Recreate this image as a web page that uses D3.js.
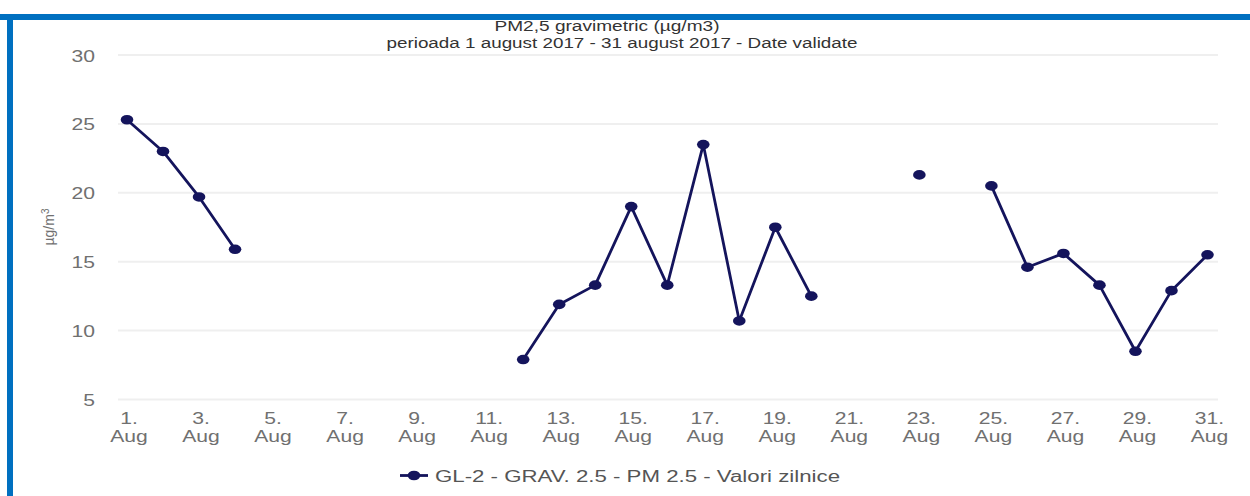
<!DOCTYPE html>
<html lang="ro">
<head>
<meta charset="UTF-8">
<title>PM2,5 gravimetric - august 2017</title>
<script src="https://cdnjs.cloudflare.com/ajax/libs/d3/7.8.5/d3.min.js"></script>
<style>
    body {
        margin: 0;
        padding: 0;
        background: #fff;
        font-family: "Liberation Sans", Arial, sans-serif;
    }
    svg { display: block; }
</style>
</head>
<body>
<div id="chart"></div>
<script>
    // Date
    const days = [1, 2, 3, 4, 5, 6, 7, 8, 9, 10, 11, 12, 13, 14, 15, 16,
                  17, 18, 19, 20, 21, 22, 23, 24, 25, 26, 27, 28, 29, 30, 31];
    const pm25 = [25.3, 23.0, 19.7, 15.9, null, null, null, null, null, null, null,
                  7.9, 11.9, 13.3, 19.0, 13.3, 23.5, 10.7, 17.5, 12.5, null,
                  null, 21.3, null, 20.5, 14.6, 15.6, 13.3, 8.5, 12.9, 15.5];
    const xTickDays = [1, 3, 5, 7, 9, 11, 13, 15, 17, 19, 21, 23, 25, 27, 29, 31];
    const yTicks = [5, 10, 15, 20, 25, 30];
    const seriesName = "GL-2 - GRAV. 2.5 - PM 2.5 - Valori zilnice";

    const width = 1250;
    const height = 496;
    const SX = 1.32; // imaginea originala e intinsa pe orizontala
    const navy = "#14145c";

    const svg = d3.select("#chart")
        .append("svg")
        .attr("width", width)
        .attr("height", height);

    // chenar albastru
    svg.append("rect").attr("x", 0).attr("y", 14).attr("width", width).attr("height", 6).attr("fill", "#0070c0");
    svg.append("rect").attr("x", 7).attr("y", 14).attr("width", 6).attr("height", height - 14).attr("fill", "#0070c0");

    const x = d3.scaleLinear().domain([1, 31]).range([127, 1207.5]);
    const y = d3.scaleLinear().domain([5, 30]).range([399.5, 55]);

    // grila
    svg.append("g")
        .selectAll("line")
        .data(yTicks)
        .enter()
        .append("line")
        .attr("x1", 118)
        .attr("x2", 1218)
        .attr("y1", d => y(d))
        .attr("y2", d => y(d))
        .attr("stroke", "#efefef")
        .attr("stroke-width", 2);

    // axa Y
    const yAxis = svg.append("g")
        .attr("transform", "translate(95,0)")
        .call(d3.axisLeft(y).tickValues(yTicks).tickSize(0).tickPadding(0));
    yAxis.select(".domain").remove();
    yAxis.selectAll("text")
        .attr("fill", "#707070")
        .style("font-size", "16px")
        .style("font-family", "'Liberation Sans', Arial, sans-serif")
        .attr("dy", null)
        .attr("x", 0)
        .attr("y", 0)
        .attr("text-anchor", "end")
        .attr("transform", `translate(0,6) scale(${SX},1)`);

    // titlu axa Y
    svg.append("text")
        .attr("transform", "translate(54,227) rotate(-90)")
        .attr("text-anchor", "middle")
        .attr("fill", "#707070")
        .style("font-size", "14px")
        .html("µg/m<tspan baseline-shift='super' font-size='10px'>3</tspan>");

    // axa X
    const xLabels = svg.append("g");
    xTickDays.forEach(dd => {
        const t = xLabels.append("text")
            .attr("text-anchor", "middle")
            .attr("fill", "#707070")
            .style("font-size", "16px");
        t.append("tspan").attr("x", 0).attr("dy", 0).text(dd + ".");
        t.append("tspan").attr("x", 0).attr("dy", 18.5).text("Aug");
        t.attr("transform", `translate(${x(dd) + 2},423.5) scale(${SX},1)`);
    });

    // linia seriei
    const pts = days.map((d, i) => ({ day: d, v: pm25[i] }));
    const line = d3.line()
        .defined(d => d.v !== null)
        .x(d => x(d.day))
        .y(d => y(d.v));

    svg.append("path")
        .datum(pts)
        .attr("d", line)
        .attr("fill", "none")
        .attr("stroke", navy)
        .attr("stroke-width", 2.8)
        .attr("stroke-linejoin", "round");

    svg.append("g")
        .selectAll("ellipse")
        .data(pts.filter(d => d.v !== null))
        .enter()
        .append("ellipse")
        .attr("cx", d => x(d.day))
        .attr("cy", d => y(d.v))
        .attr("rx", 6.3)
        .attr("ry", 4.8)
        .attr("fill", navy);

    // titluri
    svg.append("text")
        .attr("x", 607)
        .attr("y", 31)
        .attr("text-anchor", "middle")
        .attr("fill", "#333")
        .style("font-size", "14px")
        .attr("textLength", 225)
        .attr("lengthAdjust", "spacingAndGlyphs")
        .text("PM2,5 gravimetric (µg/m3)");

    svg.append("text")
        .attr("x", 622)
        .attr("y", 48)
        .attr("text-anchor", "middle")
        .attr("fill", "#333")
        .style("font-size", "14px")
        .attr("textLength", 471)
        .attr("lengthAdjust", "spacingAndGlyphs")
        .text("perioada 1 august 2017 - 31 august 2017 - Date validate");

    // legenda
    const leg = svg.append("g");
    leg.append("line")
        .attr("x1", 400).attr("x2", 428)
        .attr("y1", 475.5).attr("y2", 475.5)
        .attr("stroke", navy).attr("stroke-width", 2.8);
    leg.append("ellipse")
        .attr("cx", 414).attr("cy", 475.5)
        .attr("rx", 6.3).attr("ry", 4.8)
        .attr("fill", navy);
    leg.append("text")
        .attr("x", 435)
        .attr("y", 481.5)
        .attr("fill", "#555")
        .style("font-size", "16px")
        .attr("textLength", 405)
        .attr("lengthAdjust", "spacingAndGlyphs")
        .text(seriesName);
</script>
</body>
</html>
